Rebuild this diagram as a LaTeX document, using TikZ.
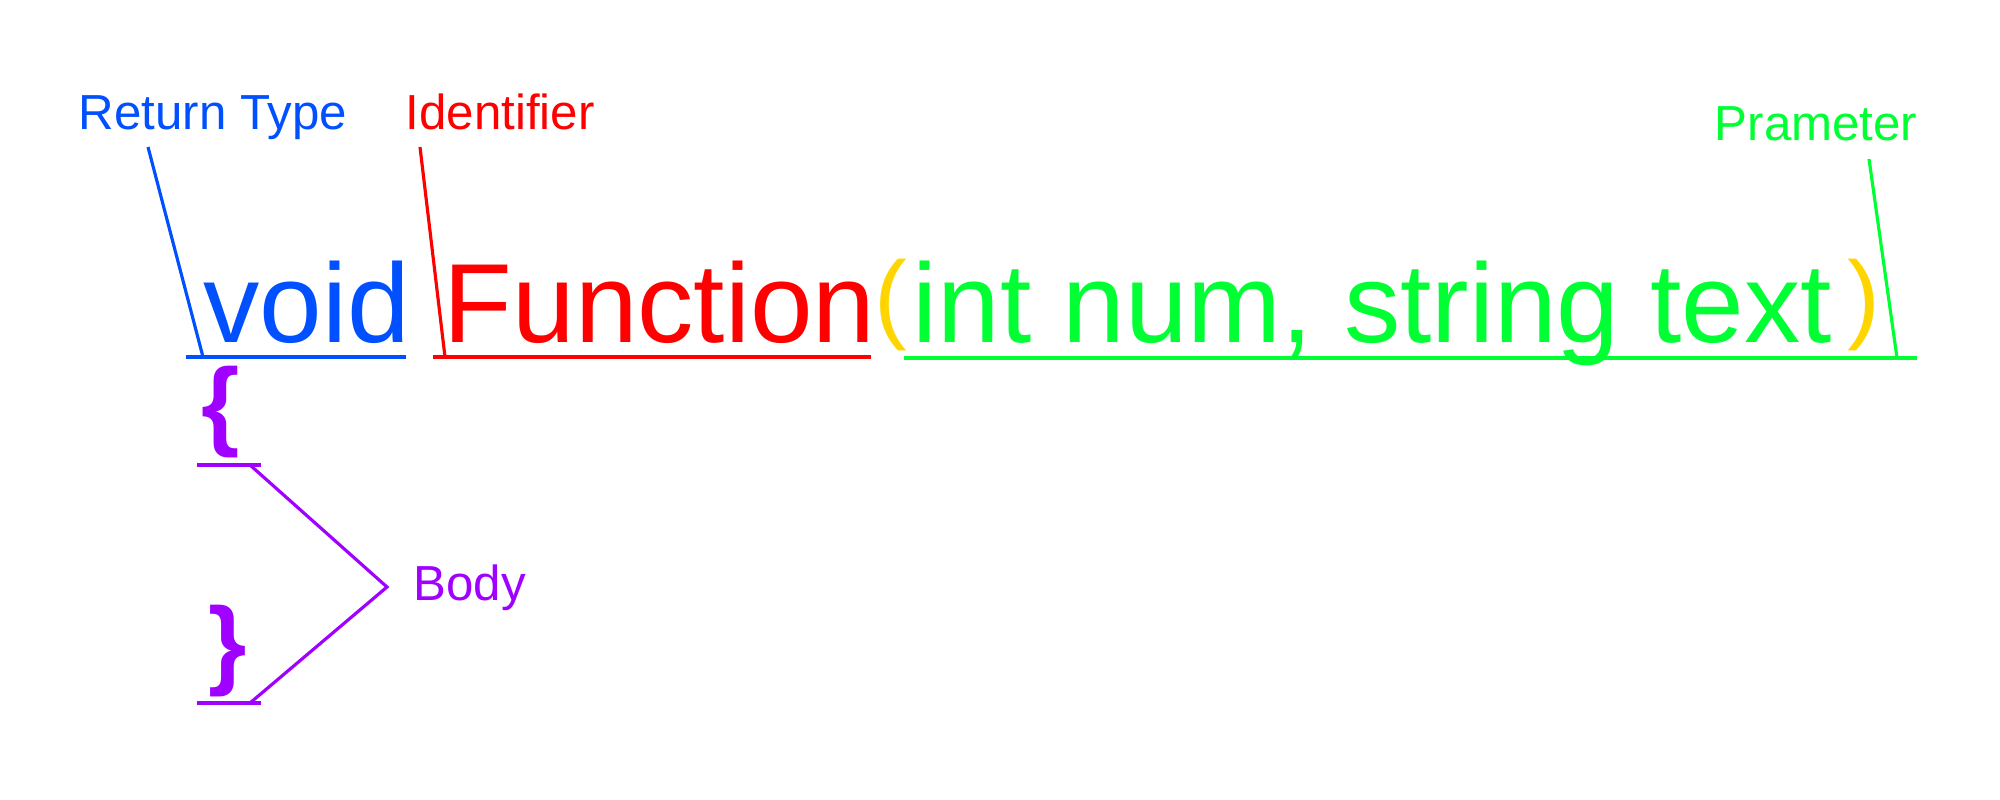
\documentclass[tikz,border=0pt]{standalone}
\usepackage{fontspec}
\setmainfont{Liberation Sans}
\usetikzlibrary{positioning}
\definecolor{rtblue}{RGB}{0,80,255}
\definecolor{idred}{RGB}{255,0,0}
\definecolor{prgreen}{RGB}{0,255,51}
\definecolor{pargold}{RGB}{255,213,0}
\definecolor{bdpurple}{RGB}{160,0,255}

\begin{document}
\begin{tikzpicture}[
    x=0.01cm, y=-0.01cm,
    code/.style={
        inner sep=0pt, anchor=base west,
        font=\fontsize{32}{38}\selectfont
    },
    paren/.style={
        inner sep=0pt, anchor=base west, text=pargold,
        font=\fontsize{28}{34}\selectfont
    },
    tag/.style={
        inner sep=0pt, anchor=base west,
        font=\fontsize{14}{17}\selectfont
    },
    curly/.style={
        inner sep=0pt, anchor=base west, text=bdpurple,
        font=\fontsize{28}{34}\selectfont\bfseries
    },
    uline/.style={line width=1.2pt},
    leader/.style={line width=0.9pt}
]
\useasboundingbox (0,0) rectangle (2000,800);

\node[tag, text=rtblue] (rettype) at (78,129) {Return Type};
\node[tag, text=idred] (ident) at (405,129) {Identifier};
\node[tag, text=prgreen, anchor=base east] (param) at (1918,140) {Prameter};
\node[tag, text=bdpurple] (body) at (413,600) {Body};

\node[code, text=rtblue] (void) at (203,342) {void};
\node[code, text=idred] (func) at (443,342) {Function};
\node[paren] (lpar) at (874,330) {(};
\node[code, text=prgreen] (args) at (912,342) {int num, string text};
\node[paren] (rpar) at (1847,330) {)};

\node[curly] (open) at (201,437) {\{};
\node[curly] (close) at (208,676) {\}};

\coordinate (rt-top) at (148,147);
\coordinate (rt-l) at (186,357);
\coordinate (rt-foot) at (203,357);
\coordinate (rt-r) at (406,357);
\coordinate (id-top) at (420,147);
\coordinate (id-l) at (433,357);
\coordinate (id-foot) at (445,357);
\coordinate (id-r) at (871,357);
\coordinate (pr-top) at (1869,159);
\coordinate (pr-l) at (904,358);
\coordinate (pr-foot) at (1897,358);
\coordinate (pr-r) at (1917,358);
\coordinate (op-l) at (197,465);
\coordinate (op-foot) at (250,465);
\coordinate (op-r) at (261,465);
\coordinate (cl-l) at (197,703);
\coordinate (cl-foot) at (250,703);
\coordinate (cl-r) at (261,703);
\coordinate (bd-tip) at (387,587);

\draw[uline, rtblue] (rt-l) -- (rt-r);
\draw[leader, rtblue] (rt-top) -- (rt-foot);
\draw[uline, idred] (id-l) -- (id-r);
\draw[leader, idred] (id-top) -- (id-foot);
\draw[uline, prgreen] (pr-l) -- (pr-r);
\draw[leader, prgreen] (pr-top) -- (pr-foot);
\draw[uline, bdpurple] (op-l) -- (op-r);
\draw[uline, bdpurple] (cl-l) -- (cl-r);
\draw[leader, bdpurple] (op-foot) -- (bd-tip) -- (cl-foot);
\end{tikzpicture}
\end{document}
